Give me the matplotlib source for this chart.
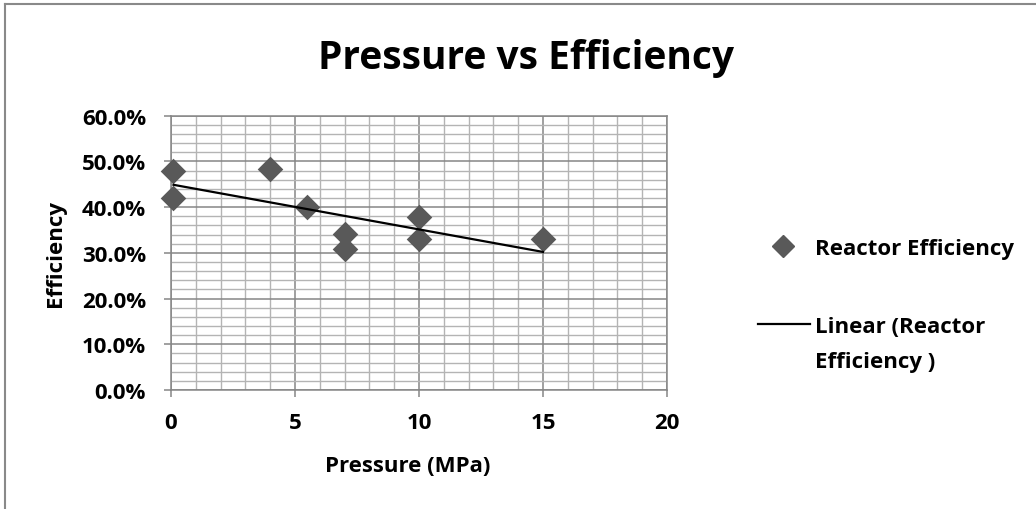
import numpy as np
import matplotlib
matplotlib.use("Agg")
import matplotlib.pyplot as plt
from matplotlib.ticker import MultipleLocator, FuncFormatter
from matplotlib.lines import Line2D

# Data
pressure = [0.1, 0.1, 4, 5.5, 7, 7, 10, 10, 15]
efficiency = [0.48, 0.42, 0.483, 0.40, 0.341, 0.308, 0.378, 0.330, 0.330]
x_ticks = [0, 5, 10, 15, 20]
y_ticks = [0.0, 0.1, 0.2, 0.3, 0.4, 0.5, 0.6]
series_label = "Reactor Efficiency"
trend_label_lines = ["Linear (Reactor", "Efficiency )"]

plt.rcParams['font.family'] = ['Open Sans', 'DejaVu Sans']
plt.rcParams['font.weight'] = 'bold'

W, H = 1036, 510
fig = plt.figure(figsize=(W/100, H/100), dpi=100)
ax = fig.add_axes([171/W, 1-391/H, (667-171)/W, (391-116.7)/H])

major_c = '#868686'
minor_c = '#b4b4b4'
FS = 16

ax.set_xlim(0, 20)
ax.set_ylim(0, 0.6)
ax.set_xticks(x_ticks)
ax.set_yticks(y_ticks)
ax.xaxis.set_minor_locator(MultipleLocator(1))
ax.yaxis.set_minor_locator(MultipleLocator(0.02))
ax.yaxis.set_major_formatter(FuncFormatter(lambda v, p: f"{v*100:.1f}%"))
ax.xaxis.set_major_formatter(FuncFormatter(lambda v, p: f"{v:g}"))

ax.grid(which='major', color=major_c, linewidth=1.1)
ax.grid(which='minor', color=minor_c, linewidth=1.0)
ax.set_axisbelow(True)
for s in ax.spines.values():
    s.set_color(major_c)
    s.set_linewidth(1.1)

ax.tick_params(which='major', direction='out', length=5, color=major_c, width=1.1,
               labelsize=FS)
ax.tick_params(axis='y', pad=13)
ax.tick_params(axis='x', pad=11)
ax.tick_params(which='minor', length=0)
for lab in ax.get_xticklabels() + ax.get_yticklabels():
    lab.set_fontweight('bold')

ax.scatter(pressure, efficiency, marker='D', s=170, color='#595959', zorder=3,
           clip_on=False, linewidths=0)

coef = np.polyfit(pressure, efficiency, 1)
xs = np.array([min(pressure), max(pressure)])
ax.plot(xs, np.polyval(coef, xs), color='black', linewidth=1.6, zorder=4)

ax.set_xlabel("Pressure (MPa)", fontsize=FS, fontweight='bold')
ax.xaxis.set_label_coords((408-171)/496, (391-467)/274.3)
ax.xaxis.label.set_va('center')
ax.set_ylabel("Efficiency", fontsize=FS, fontweight='bold')
ax.yaxis.set_label_coords((56-171)/496, 0.5)
ax.yaxis.label.set_va('center')

fig.text(526/W, 1-69/H, "Pressure vs Efficiency", fontsize=28, fontweight='bold',
         ha='center', va='baseline')

# legend (drawn manually to match layout)
fig.add_artist(Line2D([783/W], [1-247/H], transform=fig.transFigure, marker='D',
                      markersize=11.5, color='#595959', linestyle='none'))
fig.text(815/W, 1-255/H, series_label, fontsize=FS, fontweight='bold', va='baseline')
fig.add_artist(Line2D([758/W, 810/W], [1-325/H, 1-325/H], transform=fig.transFigure,
                      color='black', linewidth=1.6))
fig.text(815/W, 1-333/H, trend_label_lines[0], fontsize=FS, fontweight='bold', va='baseline')
fig.text(815/W, 1-368/H, trend_label_lines[1], fontsize=FS, fontweight='bold', va='baseline')

# outer border (top and left)
fig.add_artist(Line2D([5/W, 5/W], [0, 1-5/H], transform=fig.transFigure,
                      color='#898989', linewidth=1.5))
fig.add_artist(Line2D([5/W, 1], [1-5/H, 1-5/H], transform=fig.transFigure,
                      color='#898989', linewidth=1.5))

fig.savefig("out.png", dpi=100)
